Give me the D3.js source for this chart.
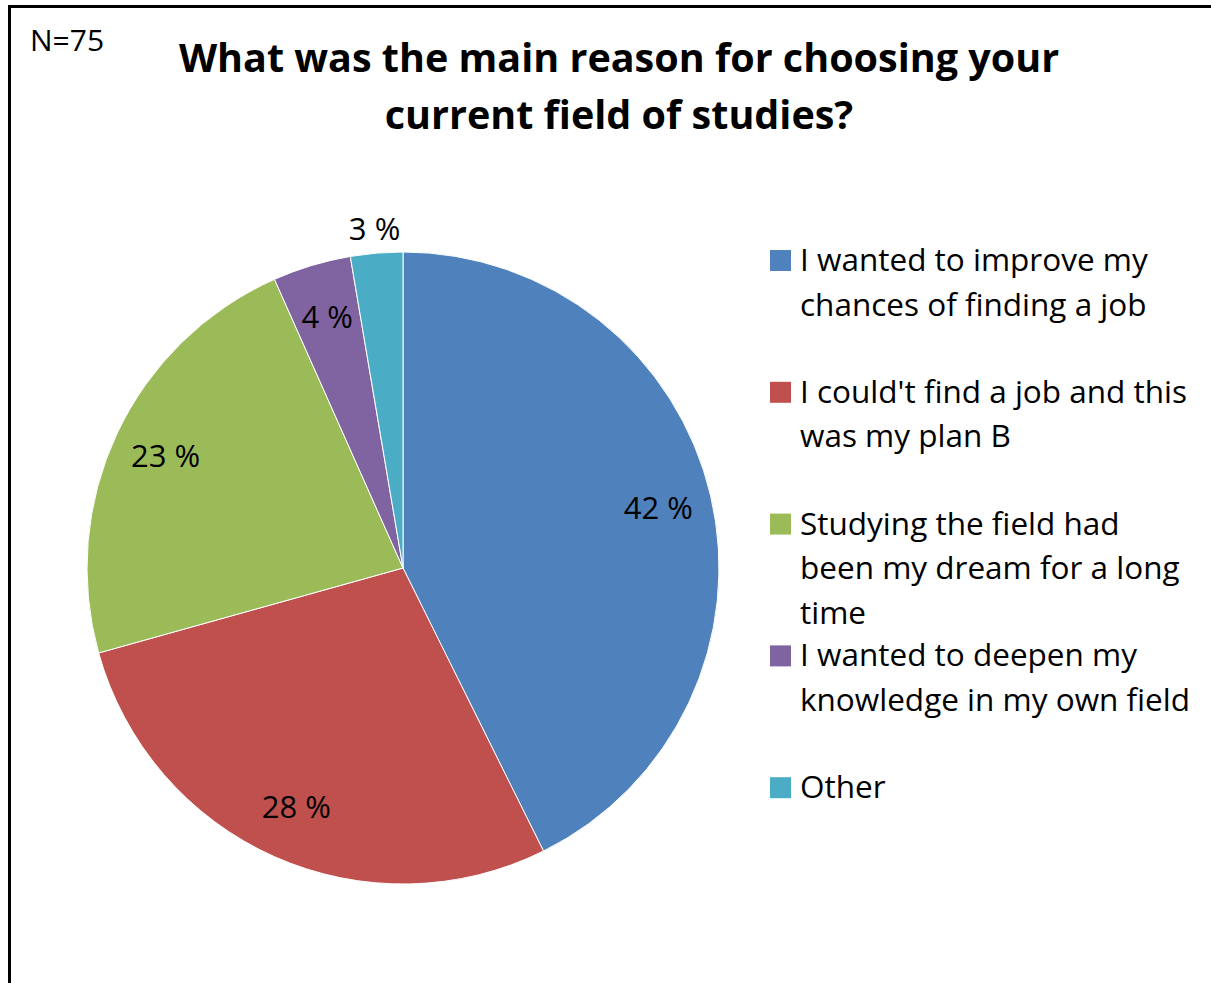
<!DOCTYPE html>
<html>
<head>
<meta charset="utf-8">
<script src="https://cdn.jsdelivr.net/npm/d3@7"></script>
<style>
  body { margin: 0; background: #fff; }
  text { font-family: "Open Sans", Lato, sans-serif; fill: #000; }
</style>
</head>
<body>
<div id="chart"></div>
<script>
// answers (counts out of N=75)
var categories = [
  'I wanted to improve my chances of finding a job',
  "I could't find a job and this was my plan B",
  'Studying the field had been my dream for a long time',
  'I wanted to deepen my knowledge in my own field',
  'Other'
];
var counts = [32, 21, 17, 3, 2];
var pctLabels = ['42 %', '28 %', '23 %', '4 %', '3 %'];
// legend text broken the way the picture does it
var legendLines = [
  ['I wanted to improve my', 'chances of finding a job'],
  ["I could't find a job and this", 'was my plan B'],
  ['Studying the field had', 'been my dream for a long', 'time'],
  ['I wanted to deepen my', 'knowledge in my own field'],
  ['Other']
];
var titleLines = ['What was the main reason for choosing your', 'current field of studies?'];
var colors = ['#4F81BD', '#C0504D', '#9BBB59', '#8064A2', '#4BACC6'];

var width = 1211, height = 983;

var svg = d3.select('#chart')
  .append('svg')
  .attr('width', width)
  .attr('height', height);

// chart frame (runs off right and bottom)
svg.append('rect')
  .attr('x', 9.5)
  .attr('y', 6.5)
  .attr('width', 1250)
  .attr('height', 1050)
  .attr('fill', 'none')
  .attr('stroke', '#000')
  .attr('stroke-width', 3);

svg.append('text')
  .attr('x', 30)
  .attr('y', 51)
  .style('font-size', '30px')
  .text('N=75');

svg.selectAll('.title')
  .data(titleLines)
  .enter()
  .append('text')
  .attr('class', 'title')
  .attr('x', 619)
  .attr('y', (d, i) => 72 + i * 57)
  .attr('text-anchor', 'middle')
  .style('font-size', '39.5px')
  .style('font-weight', 'bold')
  .text(d => d);

// pie
var radius = 316;
var graph = svg.append('g')
  .attr('transform', 'translate(403, 568)');

var pie = d3.pie().sort(null).value(d => d);
var arcs = pie(counts);

var arc = d3.arc().innerRadius(0).outerRadius(radius);
var labelArc = d3.arc().innerRadius(radius * 0.83).outerRadius(radius * 0.83);
var outArc = d3.arc().innerRadius(radius * 1.075).outerRadius(radius * 1.075);

graph.selectAll('path')
  .data(arcs)
  .enter()
  .append('path')
  .attr('d', arc)
  .attr('fill', (d, i) => colors[i])
  .attr('stroke', '#fff')
  .attr('stroke-width', 1);

graph.selectAll('.lbl')
  .data(arcs)
  .enter()
  .append('text')
  .attr('class', 'lbl')
  .attr('transform', (d, i) => 'translate(' + (i == 4 ? outArc : labelArc).centroid(d) + ')')
  .attr('text-anchor', 'middle')
  .attr('dy', '0.35em')
  .style('font-size', '31px')
  .text((d, i) => pctLabels[i]);

// legend
var legend = svg.selectAll('.leg')
  .data(categories)
  .enter()
  .append('g')
  .attr('class', 'leg')
  .attr('transform', (d, i) => 'translate(770, ' + (260 + i * 131.8) + ')');

legend.append('rect')
  .attr('x', 0)
  .attr('y', -10)
  .attr('width', 21)
  .attr('height', 21)
  .attr('fill', (d, i) => colors[i]);

legend.append('text')
  .attr('x', 30)
  .style('font-size', '31.5px')
  .selectAll('tspan')
  .data((d, i) => legendLines[i])
  .enter()
  .append('tspan')
  .attr('x', 30)
  .attr('y', (d, j) => j * 44.5)
  .attr('dy', '0.35em')
  .text(d => d);
</script>
</body>
</html>
